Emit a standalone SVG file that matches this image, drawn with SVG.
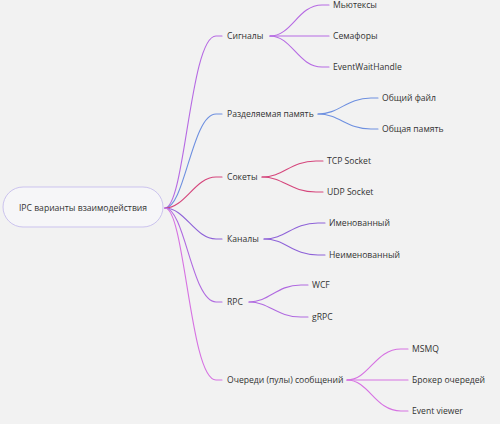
<svg xmlns="http://www.w3.org/2000/svg" width="500" height="424" viewBox="0 0 500 424">
<style>
text{font-family:"Open Sans","Noto Sans","Liberation Sans",sans-serif;font-size:8.6px;fill:#333;dominant-baseline:central}
.c{fill:none;stroke-width:1.1;stroke-linecap:round}
.s1{stroke:#b66ae3}.s2{stroke:#6e90e0}.s3{stroke:#d5467c}.s4{stroke:#8e62d8}.s5{stroke:#b06ae0}.s6{stroke:#d672e2}
</style>
<rect width="500" height="424" fill="#f2f2f2"/>
<g id="connectors">
<path class="c s1" d="M165,208 C185,208 190,36 216,36 L222,36"/>
<path class="c s2" d="M165,208 C185,208 192,114 216,114 L222,114"/>
<path class="c s3" d="M165,208 C185,208 195,177 216,177 L222,177"/>
<path class="c s4" d="M165,208 C185,208 195,239 216,239 L222,239"/>
<path class="c s5" d="M165,208 C185,208 192,302 216,302 L222,302"/>
<path class="c s6" d="M165,208 C185,208 190,380 216,380 L222,380"/>
<path class="c s1" d="M270,36 C292,36 298,5 322,5 L329,5"/>
<path class="c s1" d="M270,36 L329,36"/>
<path class="c s1" d="M270,36 C292,36 298,67 322,67 L329,67"/>
<path class="c s2" d="M318,114 C340,114 346,98 371,98 L378,98"/>
<path class="c s2" d="M318,114 C340,114 346,129 371,129 L378,129"/>
<path class="c s3" d="M262,177 C284,177 290,161 316,161 L323,161"/>
<path class="c s3" d="M262,177 C284,177 290,192 316,192 L323,192"/>
<path class="c s4" d="M264,239 C286,239 292,223 318,223 L325,223"/>
<path class="c s4" d="M264,239 C286,239 292,255 318,255 L325,255"/>
<path class="c s5" d="M249,302 C270,302 276,285 301,285 L308,285"/>
<path class="c s5" d="M249,302 C270,302 276,317 301,317 L308,317"/>
<path class="c s6" d="M347,380 C369,380 375,349 401,349 L408,349"/>
<path class="c s6" d="M347,380 L408,380"/>
<path class="c s6" d="M347,380 C369,380 375,411 401,411 L408,411"/>
</g>
<g id="root">
<rect x="3" y="187" width="160" height="40" rx="20" fill="#f6f6f8" stroke="#cbc3ee" stroke-width="1"/>
<text x="83" y="207.5" text-anchor="middle">IPC варианты взаимодействия</text>
</g>
<g id="signals"><text x="227" y="36">Сигналы</text></g>
<g id="mutex"><text x="333" y="5">Мьютексы</text></g>
<g id="semaphore"><text x="333" y="36">Семафоры</text></g>
<g id="ewh"><text x="333" y="67">EventWaitHandle</text></g>
<g id="shared"><text x="227" y="114">Разделяемая память</text></g>
<g id="sharedfile"><text x="382" y="98">Общий файл</text></g>
<g id="sharedmem"><text x="382" y="129">Общая память</text></g>
<g id="sockets"><text x="227" y="177">Сокеты</text></g>
<g id="tcp"><text x="327" y="161">TCP Socket</text></g>
<g id="udp"><text x="327" y="192">UDP Socket</text></g>
<g id="pipes"><text x="227" y="239">Каналы</text></g>
<g id="named"><text x="329" y="223">Именованный</text></g>
<g id="unnamed"><text x="329" y="255">Неименованный</text></g>
<g id="rpc"><text x="227" y="302">RPC</text></g>
<g id="wcf"><text x="312" y="285">WCF</text></g>
<g id="grpc"><text x="312" y="317">gRPC</text></g>
<g id="queues"><text x="227" y="380">Очереди (пулы) сообщений</text></g>
<g id="msmq"><text x="412" y="349">MSMQ</text></g>
<g id="broker"><text x="412" y="380">Брокер очередей</text></g>
<g id="eventviewer"><text x="412" y="411">Event viewer</text></g>
</svg>
